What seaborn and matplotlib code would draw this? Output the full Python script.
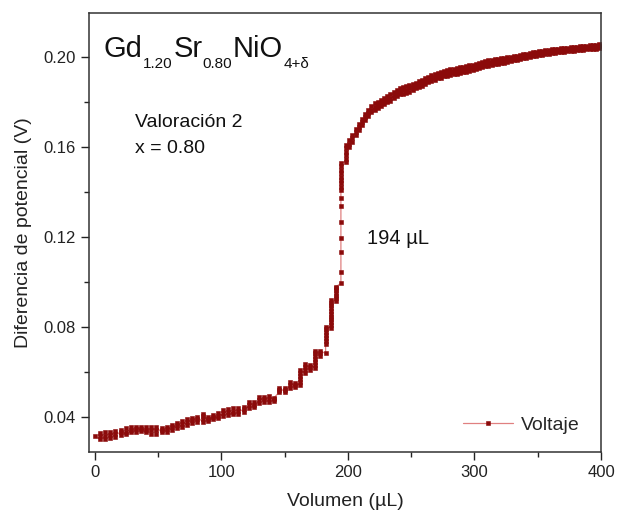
import numpy as np
import pandas as pd
import seaborn as sns
import matplotlib.pyplot as plt
from matplotlib.ticker import MultipleLocator, FormatStrFormatter

sns.set_style('ticks')
plt.rcParams['font.family'] = ['Liberation Sans', 'DejaVu Sans']

# Titration steps (volume in uL) and the potential readings taken at each step (V)
step_volumes = [
    0.0, 4.1, 8.1, 12.2, 16.2, 20.3, 24.3, 28.4, 32.4, 36.5,
    40.5, 44.6, 48.6, 52.7, 56.7, 60.8, 64.8, 68.9, 72.9, 77.0,
    81.0, 85.1, 89.1, 93.2, 97.2, 101.3, 105.3, 109.4, 113.4, 117.5,
    121.5, 125.6, 129.6, 133.7, 137.7, 141.8, 145.8, 149.9, 153.9, 158.0,
    162.0, 166.1, 170.1, 174.2, 178.2, 182.3, 186.3, 190.4, 194.4, 198.5,
    201.0, 203.5, 206.0, 208.5, 211.0, 213.5, 216.0, 218.5, 221.0, 223.5,
    226.0, 228.5, 231.0, 233.5, 236.0, 238.5, 241.0, 243.5, 246.0, 248.5,
    251.0, 253.5, 256.0, 258.5, 261.0, 263.5, 266.0, 268.5, 271.0, 273.5,
    276.0, 278.5, 281.0, 283.5, 286.0, 288.5, 291.0, 293.5, 296.0, 298.5,
    301.0, 303.5, 306.0, 308.5, 311.0, 313.5, 316.0, 318.5, 321.0, 323.5,
    326.0, 328.5, 331.0, 333.5, 336.0, 338.5, 341.0, 343.5, 346.0, 348.5,
    351.0, 353.5, 356.0, 358.5, 361.0, 363.5, 366.0, 368.5, 371.0, 373.5,
    376.0, 378.5, 381.0, 383.5, 386.0, 388.5, 391.0, 393.5, 396.0, 398.5,
]

step_readings = [
    [0.0315],
    [0.0303, 0.0316, 0.0329],
    [0.0306, 0.0319, 0.0333],
    [0.0309, 0.0323, 0.0337],
    [0.0313, 0.0327, 0.0341],
    [0.0321, 0.0333, 0.0344],
    [0.0324, 0.0337, 0.0351],
    [0.0333, 0.0345, 0.0357],
    [0.0336, 0.0347, 0.0359],
    [0.0339, 0.0348, 0.0356],
    [0.0333, 0.0346, 0.0359],
    [0.0328, 0.0343, 0.0359],
    [0.0328, 0.0342, 0.0357],
    [0.0333, 0.0344, 0.0354],
    [0.0336, 0.0347, 0.0359],
    [0.0343, 0.0355, 0.0366],
    [0.0351, 0.0364, 0.0377],
    [0.0358, 0.0371, 0.0384],
    [0.0368, 0.0380, 0.0393],
    [0.0377, 0.0388, 0.0399],
    [0.0380, 0.0391, 0.0402],
    [0.0380, 0.0393, 0.0405, 0.0414],
    [0.0385, 0.0394, 0.0403],
    [0.0391, 0.0401, 0.0411],
    [0.0395, 0.0406, 0.0418],
    [0.0407, 0.0420, 0.0433],
    [0.0410, 0.0423, 0.0437],
    [0.0413, 0.0426, 0.0440],
    [0.0417, 0.0428, 0.0440],
    [0.0425, 0.0436, 0.0448],
    [0.0443, 0.0456, 0.0470],
    [0.0447, 0.0457, 0.0467],
    [0.0462, 0.0476, 0.0492],
    [0.0469, 0.0480, 0.0492],
    [0.0469, 0.0482, 0.0495],
    [0.0472, 0.0480, 0.0488],
    [0.0514, 0.0523, 0.0532],
    [0.0514, 0.0522, 0.0529],
    [0.0531, 0.0543, 0.0556],
    [0.0536, 0.0544, 0.0551],
    [0.0543, 0.0556, 0.0570, 0.0584, 0.0598, 0.0611],
    [0.0599, 0.0612, 0.0624, 0.0636],
    [0.0610, 0.0622, 0.0633],
    [0.0620, 0.0633, 0.0646, 0.0659, 0.0672, 0.0685, 0.0695],
    [0.0674, 0.0685, 0.0695],
    [0.0684, 0.0728, 0.0741, 0.0754, 0.0767, 0.0780, 0.0792, 0.0803],
    [0.0798, 0.0810, 0.0823, 0.0835, 0.0848, 0.0860, 0.0873, 0.0885, 0.0898, 0.0910, 0.0922],
    [0.0917, 0.0929, 0.0941, 0.0953, 0.0965, 0.0977, 0.0981],
    [0.0995, 0.1047, 0.1136, 0.1195, 0.1270, 0.1340, 0.1373, 0.1410, 0.1425, 0.1440,
     0.1455, 0.1470, 0.1485, 0.1500, 0.1515, 0.1530],
    [0.1536, 0.1550, 0.1565, 0.1580, 0.1595, 0.1611],
    [0.1600, 0.1615, 0.1632], [0.1625, 0.1640, 0.1656], [0.1655, 0.1668, 0.1682],
    [0.1675, 0.1690, 0.1705], [0.1700, 0.1713, 0.1727], [0.1720, 0.1735, 0.1749],
    [0.1740, 0.1753, 0.1767], [0.1755, 0.1768, 0.1782], [0.1765, 0.1780, 0.1795],
    [0.1775, 0.1789, 0.1803], [0.1782, 0.1797, 0.1811], [0.1792, 0.1805, 0.1818],
    [0.1800, 0.1814, 0.1828], [0.1805, 0.1820, 0.1836], [0.1818, 0.1832, 0.1846],
    [0.1828, 0.1842, 0.1856], [0.1835, 0.1849, 0.1864], [0.1838, 0.1853, 0.1868],
    [0.1842, 0.1857, 0.1872], [0.1847, 0.1862, 0.1877], [0.1855, 0.1869, 0.1883],
    [0.1862, 0.1875, 0.1888], [0.1867, 0.1880, 0.1893], [0.1872, 0.1886, 0.1900],
    [0.1882, 0.1895, 0.1908], [0.1890, 0.1902, 0.1914], [0.1897, 0.1909, 0.1921],
    [0.1901, 0.1913, 0.1926], [0.1906, 0.1918, 0.1931], [0.1910, 0.1922, 0.1935],
    [0.1915, 0.1927, 0.1939], [0.1919, 0.1931, 0.1943], [0.1922, 0.1934, 0.1946],
    [0.1925, 0.1937, 0.1949], [0.1928, 0.1940, 0.1952], [0.1931, 0.1943, 0.1955],
    [0.1934, 0.1946, 0.1958], [0.1936, 0.1949, 0.1961], [0.1940, 0.1952, 0.1964],
    [0.1944, 0.1956, 0.1968], [0.1948, 0.1960, 0.1972], [0.1952, 0.1964, 0.1976],
    [0.1957, 0.1968, 0.1980], [0.1960, 0.1971, 0.1983], [0.1963, 0.1974, 0.1986],
    [0.1966, 0.1977, 0.1989], [0.1969, 0.1980, 0.1991], [0.1972, 0.1983, 0.1994],
    [0.1974, 0.1985, 0.1996], [0.1977, 0.1988, 0.1998], [0.1980, 0.1990, 0.2001],
    [0.1983, 0.1993, 0.2003], [0.1986, 0.1996, 0.2006], [0.1989, 0.1999, 0.2008],
    [0.1992, 0.2001, 0.2011], [0.1995, 0.2004, 0.2013], [0.1998, 0.2007, 0.2016],
    [0.2001, 0.2010, 0.2019], [0.2004, 0.2013, 0.2022], [0.2007, 0.2016, 0.2024],
    [0.2010, 0.2018, 0.2027], [0.2012, 0.2020, 0.2029], [0.2014, 0.2022, 0.2031],
    [0.2016, 0.2024, 0.2033], [0.2018, 0.2026, 0.2035], [0.2020, 0.2028, 0.2037],
    [0.2022, 0.2030, 0.2039], [0.2024, 0.2032, 0.2040], [0.2025, 0.2033, 0.2042],
    [0.2027, 0.2035, 0.2043], [0.2028, 0.2036, 0.2045], [0.2030, 0.2038, 0.2046],
    [0.2031, 0.2039, 0.2048], [0.2032, 0.2040, 0.2049], [0.2033, 0.2042, 0.2051],
    [0.2035, 0.2043, 0.2052], [0.2036, 0.2045, 0.2054], [0.2037, 0.2046, 0.2055],
    [0.2039, 0.2048, 0.2057], [0.2040, 0.2049, 0.2058],
]

x_ticks = [0, 100, 200, 300, 400]
y_ticks = [0.04, 0.08, 0.12, 0.16, 0.20]

# formula pieces: (text, is_subscript)
formula_parts = [('Gd', False), ('1.20', True), ('Sr', False), ('0.80', True),
                 ('NiO', False), ('4+δ', True)]

MARK_COLOR = '#8b0a0a'
LINE_COLOR = '#e08080'
TEXT_COLOR = '#111111'

rows = [(v, r) for v, rs in zip(step_volumes, step_readings) for r in rs]
df = pd.DataFrame(rows, columns=['volumen', 'voltaje'])

fig = plt.figure(figsize=(6.23, 5.16), dpi=100)
ax = fig.add_axes([0.1429, 0.124, 0.8218, 0.8508])

sns.lineplot(data=df, x='volumen', y='voltaje', estimator=None, sort=False, ax=ax,
             color=LINE_COLOR, linewidth=0.9, marker='s', markersize=3.3,
             markerfacecolor=MARK_COLOR, markeredgecolor=MARK_COLOR,
             markeredgewidth=0.4, label='Voltaje', legend=False)

ax.set_xlim(-4.7, 400)
ax.set_ylim(0.0246, 0.2197)
ax.set_xticks(x_ticks)
ax.set_yticks(y_ticks)
ax.xaxis.set_minor_locator(MultipleLocator(50))
ax.yaxis.set_minor_locator(MultipleLocator(0.02))
ax.yaxis.set_major_formatter(FormatStrFormatter('%.2f'))
ax.tick_params(which='major', direction='out', length=6, width=1, labelsize=12,
               colors='#222222')
ax.tick_params(which='minor', direction='out', length=3.5, width=1, colors='#222222')
for sp in ax.spines.values():
    sp.set_linewidth(1.1)
    sp.set_color('#333333')

ax.set_xlabel('Volumen (µL)', fontsize=14, labelpad=9, color='#222222')
ax.set_ylabel('Diferencia de potencial (V)', fontsize=14, labelpad=8, color='#222222')

# chemical formula with small, low subscripts, laid out piece by piece
renderer = fig.canvas.get_renderer()
xd, yd = ax.transAxes.transform((0.029, 0.900))
for txt, sub in formula_parts:
    t = ax.text(xd, yd - (11 if sub else 0), txt, transform=None,
                fontsize=11 if sub else 21, va='baseline', color=TEXT_COLOR)
    xd = t.get_window_extent(renderer).x1 + (1 if sub else 0)

ax.text(0.090, 0.740, 'Valoración 2', transform=ax.transAxes, fontsize=14,
        va='baseline', color=TEXT_COLOR)
ax.text(0.090, 0.681, 'x = 0.80', transform=ax.transAxes, fontsize=14,
        va='baseline', color=TEXT_COLOR)
ax.text(0.543, 0.474, '194 µL', transform=ax.transAxes, fontsize=14.5,
        va='baseline', color=TEXT_COLOR)

handles = ax.get_lines()[:1]
ax.legend(handles, ['Voltaje'], loc='center right', bbox_to_anchor=(0.959, 0.062),
          frameon=False, fontsize=14, handlelength=2.6, handletextpad=0.4,
          borderpad=0, borderaxespad=0, numpoints=1)

fig.savefig('out.png', dpi=100)
